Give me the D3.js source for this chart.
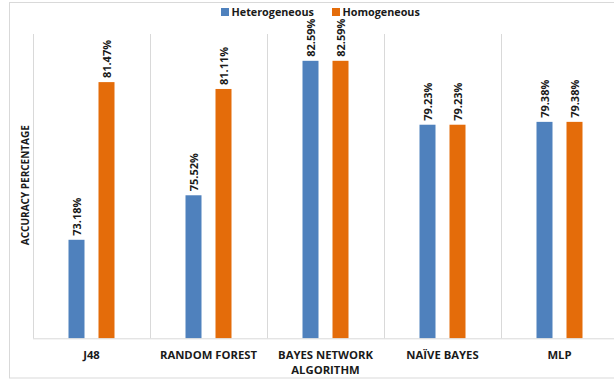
<!DOCTYPE html>
<html>
<head>
<meta charset="utf-8">
<script src="https://cdn.jsdelivr.net/npm/d3@7"></script>
<style>
  html, body { margin: 0; padding: 0; background: #fff; }
  svg { display: block; font-family: "Open Sans", sans-serif; font-weight: bold; }
</style>
</head>
<body>
<svg id="chart" width="614" height="380"></svg>
<script>
// Classifier accuracy for the two data set types
const categories = ["J48", "RANDOM FOREST", "BAYES NETWORK", "NAÏVE BAYES", "MLP"];
const seriesNames = ["Heterogeneous", "Homogeneous"];
const heterogeneous = [73.18, 75.52, 82.59, 79.23, 79.38];
const homogeneous = [81.47, 81.11, 82.59, 79.23, 79.38];
const seriesColors = ["#4F81BD", "#E46C0A"];
const yDomain = [68, 84];
const yTitle = "ACCURACY PERCENTAGE";
const xTitle = "ALGORITHM";

const seriesValues = [heterogeneous, homogeneous];

const svg = d3.select("#chart");
const plot = { left: 33, right: 618, top: 34, bottom: 338.3 };

// Chart frame
svg.append("rect")
  .attr("x", 9.5).attr("y", 2.5)
  .attr("width", 612).attr("height", 375.5)
  .attr("fill", "#fff").attr("stroke", "#d9d9d9").attr("stroke-width", 1);

const x0 = d3.scaleBand().domain(categories).range([plot.left, plot.right]).padding(0);
const mid = x0.bandwidth() / 2;
const x1 = d3.scaleBand().domain(seriesNames).range([mid - 23, mid + 23])
  .paddingInner(14 / 30).paddingOuter(0);
const y = d3.scaleLinear().domain(yDomain).range([plot.bottom, plot.top]);

// Category separators
const bounds = categories.map(c => x0(c)).concat([plot.right]);
svg.append("g").selectAll("line").data(bounds).join("line")
  .attr("x1", d => Math.round(d) + 0.5).attr("x2", d => Math.round(d) + 0.5)
  .attr("y1", plot.top).attr("y2", plot.bottom)
  .attr("stroke", "#d9d9d9").attr("stroke-width", 1);

// Bars and rotated value labels
const rows = [];
categories.forEach((c, i) => {
  seriesNames.forEach((s, j) => rows.push({ c, s, j, v: seriesValues[j][i] }));
});

const barLayer = svg.append("g").attr("class", "bars");
barLayer.selectAll("rect").data(rows).join("rect")
  .attr("x", d => x0(d.c) + x1(d.s))
  .attr("y", d => y(d.v))
  .attr("width", x1.bandwidth())
  .attr("height", d => plot.bottom - y(d.v))
  .attr("fill", d => seriesColors[d.j]);

const labelLayer = svg.append("g").attr("class", "labels");
const anchors = labelLayer.selectAll("g").data(rows).join("g")
  .attr("transform", d => "translate(" + (x0(d.c) + x1(d.s) + x1.bandwidth() / 2 + 4).toFixed(2) + "," + (y(d.v) - 4).toFixed(2) + ")");
anchors.append("text")
  .attr("transform", "rotate(-90)")
  .attr("text-anchor", "start")
  .attr("font-size", 11)
  .attr("fill", "#1a1a1a")
  .text(d => d.v.toFixed(2) + "%");

// Baseline axis
const xAxis = d3.axisBottom(x0).tickSize(0).tickPadding(0);
const gx = svg.append("g").attr("transform", `translate(0,${plot.bottom})`).call(xAxis);
gx.select(".domain").attr("stroke", "#d9d9d9").attr("d", `M${plot.left},0.5H${plot.right}`);
gx.selectAll(".tick text")
  .attr("y", 21).attr("dy", null)
  .attr("font-family", "Open Sans, sans-serif")
  .attr("font-weight", "bold")
  .attr("font-size", 11.3)
  .attr("fill", "#1a1a1a");

// Axis titles
svg.append("text")
  .attr("x", (plot.left + plot.right) / 2).attr("y", 374)
  .attr("text-anchor", "middle").attr("font-size", 11.3).attr("fill", "#1a1a1a")
  .text(xTitle);

svg.append("text")
  .attr("transform", `translate(28.5,${(plot.top + plot.bottom) / 2 - 1}) rotate(-90)`)
  .attr("text-anchor", "middle").attr("font-size", 10).attr("fill", "#1a1a1a")
  .text(yTitle);

// Legend
const legendX = [221, 332];
const legend = svg.append("g").selectAll("g").data(seriesNames).join("g")
  .attr("transform", (d, i) => `translate(${legendX[i]},8)`);
legend.append("rect").attr("width", 8).attr("height", 8)
  .attr("fill", (d, i) => seriesColors[i]);
legend.append("text").attr("x", 10.5).attr("y", 7.8)
  .attr("font-size", 10.8).attr("fill", "#1a1a1a")
  .text(d => d);
</script>
</body>
</html>
